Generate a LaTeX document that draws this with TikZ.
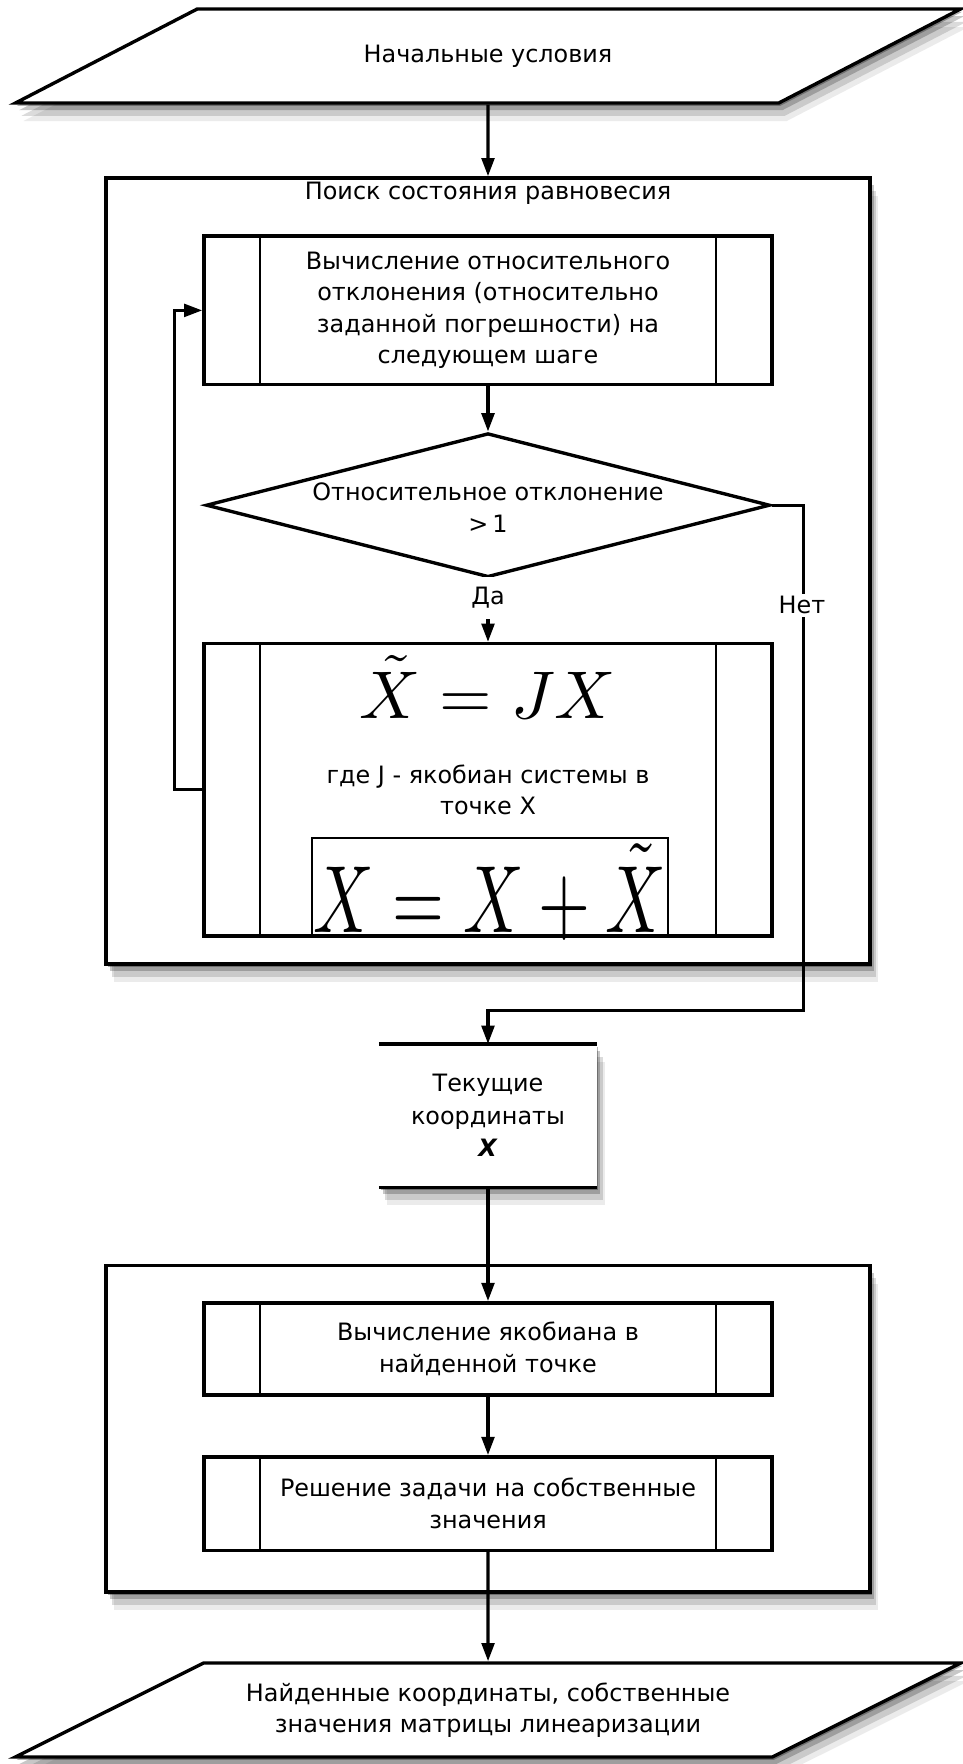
\documentclass[tikz,border=0pt]{standalone}
\usepackage{fontspec}
\setmainfont{DejaVu Sans}
\usepackage{graphicx}
\usepackage{tikz}
\usetikzlibrary{shapes.geometric,arrows.meta,shadows}

\tikzset{
	soft/.style={general shadow={shadow xshift=.2cm, shadow yshift=-.45cm, opacity=.08, fill=black},
		general shadow={shadow xshift=.15cm, shadow yshift=-.32cm, opacity=.14, fill=black},
		general shadow={shadow xshift=.09cm, shadow yshift=-.18cm, opacity=.22, fill=black},
		general shadow={shadow xshift=.04cm, shadow yshift=-.07cm, opacity=.3, fill=black}},
	iobox/.style={trapezium, trapezium left angle=21.5, trapezium right angle=158.5, trapezium stretches=true,
		draw, line width=2.4pt, fill=white, minimum width=23.7cm, minimum height=2.35cm, align=center, soft},
	group/.style={draw, line width=2.4pt, fill=white, minimum width=19.1cm, soft},
	subbox/.style={draw, line width=2.4pt, fill=white, minimum width=14.2cm, align=center},
	flow/.style={line width=2.4pt, -{Triangle[length=13pt,width=9pt]}}
}

\begin{document}
\begin{tikzpicture}[every node/.style={font=\fontsize{17}{22.4}\selectfont}]
	\useasboundingbox (0,0) rectangle (24.075,-44.1);
	
	\node[iobox] (start) at (12.2,-1.4) {Начальные условия};
	
	% search for equilibrium
	\node[group, minimum height=19.65cm] (search) at (12.2,-14.275) {};
	\node (searchtitle) at (12.2,-4.84) {Поиск состояния равновесия};
	
	\node[subbox, minimum height=3.72cm] (calc1) at (12.2,-7.76)
		{Вычисление относительного\\отклонения (относительно\\заданной погрешности) на\\следующем шаге};
	\node[diamond, draw, line width=2.4pt, fill=white, minimum width=14.1cm, minimum height=3.6cm, inner sep=0pt] (cond) at (12.2,-12.63) {};
	\node[align=center] (condtext) at (12.2,-12.69) {Относительное отклонение\\>\,1};
	
	\node[subbox, minimum height=7.31cm] (calc2) at (12.2,-19.745) {};
	\node[anchor=base, font=\fontsize{10}{12}\selectfont] (jx) at (12.2,-17.95) {\scalebox{4.8}{$\tilde{X} = JX$}};
	\node[align=center] (jnote) at (12.2,-19.75) {где J - якобиан системы в\\точке X};
	\node[draw, line width=1.6pt, minimum width=8.9cm, minimum height=2.45cm] (updbox) at (12.25,-22.175) {};
	\node[anchor=base, font=\fontsize{10}{12}\selectfont] (upd) at (12.25,-23.3) {\scalebox{4.75}[6.8]{$X = X + \tilde{X}$}};
	
	% current coordinates
	\node[fill=white, soft, minimum width=5.44cm, minimum height=3.57cm, align=center,
		font=\fontsize{17}{23.2}\selectfont] (current) at (12.2,-27.89)
		{Текущие\\координаты\\\textbf{\textit{X}}};
	\draw[line width=2.4pt] (current.north west) -- (current.north east);
	\draw[line width=2.4pt] (current.south west) -- (current.south east);
	
	% eigenvalues
	\node[group, minimum height=8.16cm] (eigen) at (12.2,-35.72) {};
	\node[subbox, minimum height=2.3cm] (calc3) at (12.2,-33.72) {Вычисление якобиана в\\найденной точке};
	\node[subbox, minimum height=2.34cm] (calc4) at (12.2,-37.59) {Решение задачи на собственные\\значения};
	
	\node[iobox] (finish) at (12.2,-42.75) {Найденные координаты, собственные\\значения матрицы линеаризации};
	
	\foreach \n in {calc1,calc2,calc3,calc4}{
		\draw[line width=1.4pt] ([xshift=1.45cm]\n.north west) -- ([xshift=1.45cm]\n.south west);
		\draw[line width=1.4pt] ([xshift=-1.45cm]\n.north east) -- ([xshift=-1.45cm]\n.south east);
	}
	
	\coordinate (noturn) at (20.08,-25.26);
	
	\draw[flow] (start) -- (search.north);
	\draw[flow] (calc1) -- (cond);
	\draw[flow] (cond) -- (calc2);
	\draw[flow] (calc2.west) -- ++(-0.7,0) |- (calc1.west);
	\draw[flow] (cond.east) -| (noturn) -| (current.north);
	\draw[flow] (current) -- (calc3);
	\draw[flow] (calc3) -- (calc4);
	\draw[flow] (calc4) -- (finish);
	
	\node[fill=white, inner xsep=3pt, inner ysep=0.27cm] (yes) at (12.2,-14.95) {Да};
	\node[fill=white, inner sep=2pt] (no) at (20.05,-15.13) {Нет};
	
\end{tikzpicture}
\end{document}
